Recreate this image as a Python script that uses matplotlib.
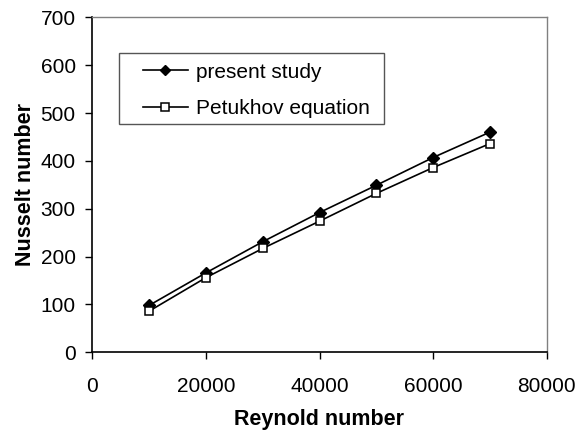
import matplotlib
matplotlib.use("Agg")
import matplotlib.pyplot as plt
from matplotlib.patches import Rectangle

reynolds = [10000, 20000, 30000, 40000, 50000, 60000, 70000]
present_study = [98, 166, 231, 292, 349, 407, 460]
petukhov = [86, 156, 217, 274, 332, 386, 436]
x_ticks = [0, 20000, 40000, 60000, 80000]
y_ticks = [0, 100, 200, 300, 400, 500, 600, 700]

plt.rcParams['font.family'] = ['Liberation Sans', 'DejaVu Sans']

W, H = 578, 430
fig = plt.figure(figsize=(W / 100, H / 100), dpi=100)
ax_l, ax_r, ax_t, ax_b = 92.3, 546.7, 17.3, 352.3
ax = fig.add_axes([ax_l / W, 1 - ax_b / H, (ax_r - ax_l) / W, (ax_b - ax_t) / H])

ax.plot(reynolds, present_study, color='black', lw=1.2, marker='D', ms=5.8,
        mfc='black', mec='black', label='present study')
ax.plot(reynolds, petukhov, color='black', lw=1.2, marker='s', ms=6.3,
        mfc='white', mec='black', mew=1.1, label='Petukhov equation')

ax.set_xlim(0, 80000)
ax.set_ylim(0, 700)
ax.set_xticks(x_ticks)
ax.set_yticks(y_ticks)
ax.tick_params(direction='out', length=5, width=1, labelsize=15, top=False, right=False)
ax.tick_params(axis='x', pad=13)
ax.tick_params(axis='y', pad=7)
for s in ['left', 'bottom']:
    ax.spines[s].set_color('black')
    ax.spines[s].set_linewidth(1.2)
for s in ['top', 'right']:
    ax.spines[s].set_color('#808080')
    ax.spines[s].set_linewidth(1.0)

ax.set_xlabel('Reynold number', fontsize=15.5, fontweight='bold', labelpad=9)
ax.set_ylabel('Nusselt number', fontsize=15.5, fontweight='bold', labelpad=3)

# legend frame (pixel coordinates of reference box converted to axes fraction)
def to_ax(px, py):
    return (px - ax_l) / (ax_r - ax_l), (ax_b - py) / (ax_b - ax_t)

x0, y0 = to_ax(119.3, 124.0)
x1, y1 = to_ax(384.0, 53.3)
ax.add_patch(Rectangle((x0, y0), x1 - x0, y1 - y0, transform=ax.transAxes,
                       facecolor='white', edgecolor='#555555', lw=1.0, zorder=4))

lx, ly = to_ax(128.0, 48.0)
leg = ax.legend(loc='upper left', bbox_to_anchor=(lx, ly), fontsize=15,
                frameon=False, handlelength=2.2, borderpad=0.2,
                labelspacing=0.85, handletextpad=0.35, markerscale=0.9)
leg.set_zorder(5)

fig.savefig('out.png', dpi=100)
